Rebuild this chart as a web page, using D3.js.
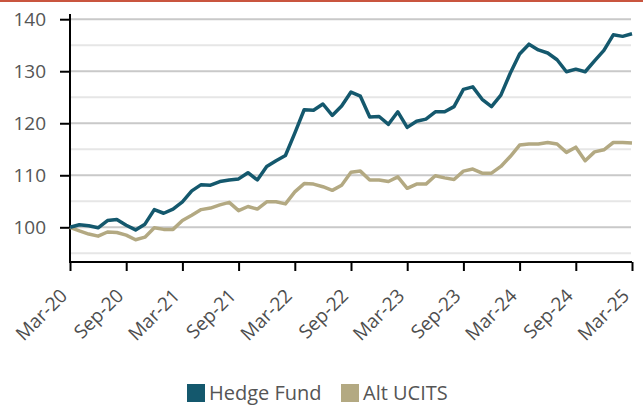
<!DOCTYPE html>
<html>
<head>
<meta charset="utf-8">
<script src="https://cdn.jsdelivr.net/npm/d3@7/dist/d3.min.js"></script>
<style>
  html, body { margin: 0; padding: 0; background: #fff; }
  svg { display: block; }
  text { font-family: "Open Sans", "Noto Sans", sans-serif; fill: #555; }
</style>
</head>
<body>
<svg id="chart" width="643" height="410"></svg>
<script>
// Monthly index levels, Mar-20 = 100, through Mar-25
const seriesNames = ["Hedge Fund", "Alt UCITS"];
const seriesColors = ["#14586d", "#b3a982"];

const hedgeFund = [
  100.0, 100.5, 100.3, 99.9, 101.3, 101.5, 100.4, 99.5, 100.6, 103.4,
  102.7, 103.5, 104.9, 107.0, 108.2, 108.1, 108.8, 109.1, 109.3, 110.5,
  109.1, 111.7, 112.8, 113.8, 118.1, 122.6, 122.5, 123.7, 121.5, 123.3,
  126.0, 125.2, 121.2, 121.3, 119.8, 122.2, 119.2, 120.4, 120.8, 122.2,
  122.2, 123.2, 126.5, 127.0, 124.6, 123.2, 125.4, 129.6, 133.3, 135.2,
  134.1, 133.5, 132.2, 129.9, 130.4, 129.9, 132.0, 134.0, 137.0, 136.7,
  137.2
];

const altUcits = [
  100.0, 99.3, 98.7, 98.3, 99.1, 99.0, 98.5, 97.6, 98.1, 99.9,
  99.6, 99.6, 101.3, 102.3, 103.4, 103.7, 104.3, 104.8, 103.2, 104.0,
  103.5, 104.9, 104.9, 104.5, 106.8, 108.4, 108.3, 107.8, 107.1, 108.1,
  110.6, 110.8, 109.1, 109.1, 108.8, 109.7, 107.5, 108.3, 108.3, 109.9,
  109.5, 109.2, 110.8, 111.2, 110.4, 110.4, 111.7, 113.6, 115.8, 116.0,
  116.0, 116.3, 116.0, 114.4, 115.4, 112.8, 114.5, 114.9, 116.3, 116.3,
  116.2
];

const xTickLabels = ["Mar-20", "Sep-20", "Mar-21", "Sep-21", "Mar-22", "Sep-22",
                     "Mar-23", "Sep-23", "Mar-24", "Sep-24", "Mar-25"];
const yTicks = [100, 110, 120, 130, 140];
const gridValues = [95, 100, 105, 110, 115, 120, 125, 130, 135, 140];

const svg = d3.select("#chart");

// Thin accent rule across the top
svg.append("rect").attr("x", 0).attr("y", 0).attr("width", 643).attr("height", 2)
  .attr("fill", "#c9553f");

const plotLeft = 70, plotRight = 632, plotTop = 14, plotBottom = 262;

const x = d3.scaleLinear().domain([0, hedgeFund.length - 1]).range([plotLeft, plotRight]);
const y = d3.scaleLinear().domain([93.33, 141]).range([plotBottom, plotTop]);

// Horizontal gridlines: darker on the labelled decades, lighter in between
svg.append("g").selectAll("line").data(gridValues).join("line")
  .attr("x1", plotLeft).attr("x2", plotRight - 1)
  .attr("y1", d => y(d)).attr("y2", d => y(d))
  .attr("stroke", d => d % 10 === 0 ? "#c9c9c9" : "#e6e6e6")
  .attr("stroke-width", 2);

// Y axis
const yAxis = d3.axisLeft(y).tickValues(yTicks).tickSize(10).tickPadding(14);
const gy = svg.append("g").attr("transform", `translate(${plotLeft},0)`).call(yAxis);
gy.select(".domain").remove();
gy.selectAll(".tick line").attr("stroke", "#000").attr("stroke-width", 2);
gy.selectAll(".tick text").style("font-size", "19px").style("fill", "#555");
svg.append("line").attr("x1", plotLeft).attr("x2", plotLeft).attr("y1", plotTop).attr("y2", plotBottom + 1)
  .attr("stroke", "#000").attr("stroke-width", 2);

// X axis: a tick every six months
const tickIdx = xTickLabels.map((_, i) => i * 6);
const xAxis = d3.axisBottom(x).tickValues(tickIdx).tickSize(9)
  .tickFormat((d, i) => xTickLabels[i]);
const gx = svg.append("g").attr("transform", `translate(0,${plotBottom})`).call(xAxis);
gx.select(".domain").attr("stroke", "#000").attr("stroke-width", 2)
  .attr("d", `M${plotLeft},0H${plotRight}`);
gx.selectAll(".tick line").attr("stroke", "#000").attr("stroke-width", 2);
gx.selectAll(".tick text")
  .style("font-size", "19px").style("fill", "#4d4d4d")
  .attr("text-anchor", "end")
  .attr("dy", null).attr("y", 0)
  .attr("transform", "translate(-2,35) rotate(-45)");

// Series lines
const line = d3.line().x((d, i) => x(i)).y(d => y(d)).curve(d3.curveLinear);
[[altUcits, seriesColors[1]], [hedgeFund, seriesColors[0]]].forEach(([s, c]) => {
  svg.append("path").datum(s).attr("d", line)
    .attr("fill", "none").attr("stroke", c)
    .attr("stroke-width", 3.5).attr("stroke-linejoin", "round");
});

// Legend
const legendX = [187, 341];
const lg = svg.append("g");
seriesNames.forEach((name, i) => {
  lg.append("rect").attr("x", legendX[i]).attr("y", 384).attr("width", 18).attr("height", 18)
    .attr("fill", seriesColors[i]);
  lg.append("text").attr("x", legendX[i] + 22).attr("y", 400)
    .style("font-size", "20px").style("fill", "#555").text(name);
});
</script>
</body>
</html>
